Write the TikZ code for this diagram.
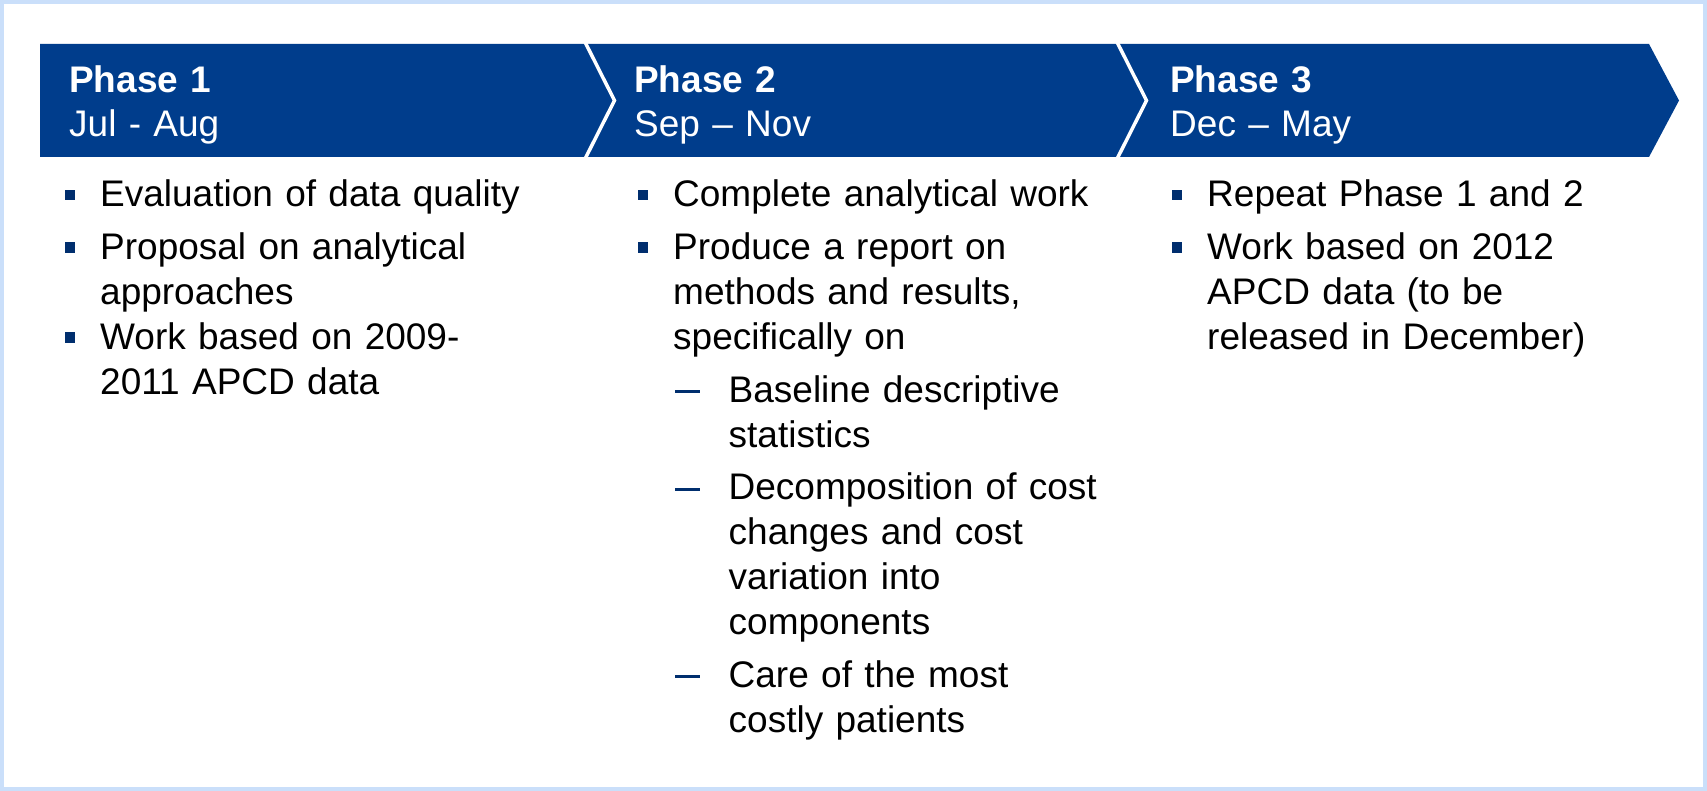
\documentclass[tikz,border=0pt]{standalone}
\usepackage{fontspec}
\setmainfont{Liberation Sans}
\definecolor{bandblue}{RGB}{0,61,140}
\definecolor{navy}{RGB}{0,46,110}
\definecolor{frameblue}{RGB}{202,223,250}
\tikzset{
  itm/.style={anchor=base west, inner sep=0pt, text width=480pt, align=left,
    font=\fontsize{37}{45}\selectfont, text=black},
  hdr/.style={anchor=base west, inner sep=0pt, text width=420pt, align=left,
    font=\fontsize{37}{44}\selectfont, text=white},
  bul/.style={rectangle, fill=navy, inner sep=0pt, minimum size=10.5pt},
  sep/.style={white, line width=3.5pt},
}
\begin{document}
\begin{tikzpicture}[x=1pt,y=-1pt]
\useasboundingbox (0,0) rectangle (1707,791);
% frame
\fill[frameblue] (0,0) rectangle (1707,791);
\fill[white] (3.5,4) rectangle (1703,787);
% chevron band
\fill[bandblue] (40,44) -- (1649,44) -- (1679,100.5) -- (1649,157) -- (40,157) -- cycle;
\draw[sep] (585,42) -- (614.5,100.5) -- (585,159);
\draw[sep] (1117,42) -- (1146.5,100.5) -- (1117,159);
% headers
\node[hdr] (h1) at (69,93) {\textbf{Phase 1}\\Jul - Aug};
\node[hdr] (h2) at (634,93) {\textbf{Phase 2}\\Sep – Nov};
\node[hdr] (h3) at (1170,93) {\textbf{Phase 3}\\Dec – May};
% Phase 1
\node[bul] (b11) at (70,195) {};
\node[itm] (t11) at (100,207) {Evaluation of data quality};
\node[bul] (b12) at (70,247.5) {};
\node[itm] (t12) at (100,259.5) {Proposal on analytical\\approaches};
\node[bul] (b13) at (70,337.5) {};
\node[itm] (t13) at (100,349.5) {Work based on 2009-\\2011 APCD data};
% Phase 2
\node[bul] (b21) at (643,195) {};
\node[itm] (t21) at (673,207) {Complete analytical work};
\node[bul] (b22) at (643,247.5) {};
\node[itm] (t22) at (673,259.5) {Produce a report on\\methods and results,\\specifically on};
\fill[navy] (675,390) rectangle (700,393);
\node[itm] (s21) at (728.5,402) {Baseline descriptive\\statistics};
\fill[navy] (675,488) rectangle (700,491);
\node[itm] (s22) at (728.5,499.5) {Decomposition of cost\\changes and cost\\variation into\\components};
\fill[navy] (675,675) rectangle (700,678);
\node[itm] (s23) at (728.5,687) {Care of the most\\costly patients};
% Phase 3
\node[bul] (b31) at (1177,195) {};
\node[itm] (t31) at (1207,207) {Repeat Phase 1 and 2};
\node[bul] (b32) at (1177,247.5) {};
\node[itm] (t32) at (1207,259.5) {Work based on 2012\\APCD data (to be\\released in December)};
\end{tikzpicture}
\end{document}
